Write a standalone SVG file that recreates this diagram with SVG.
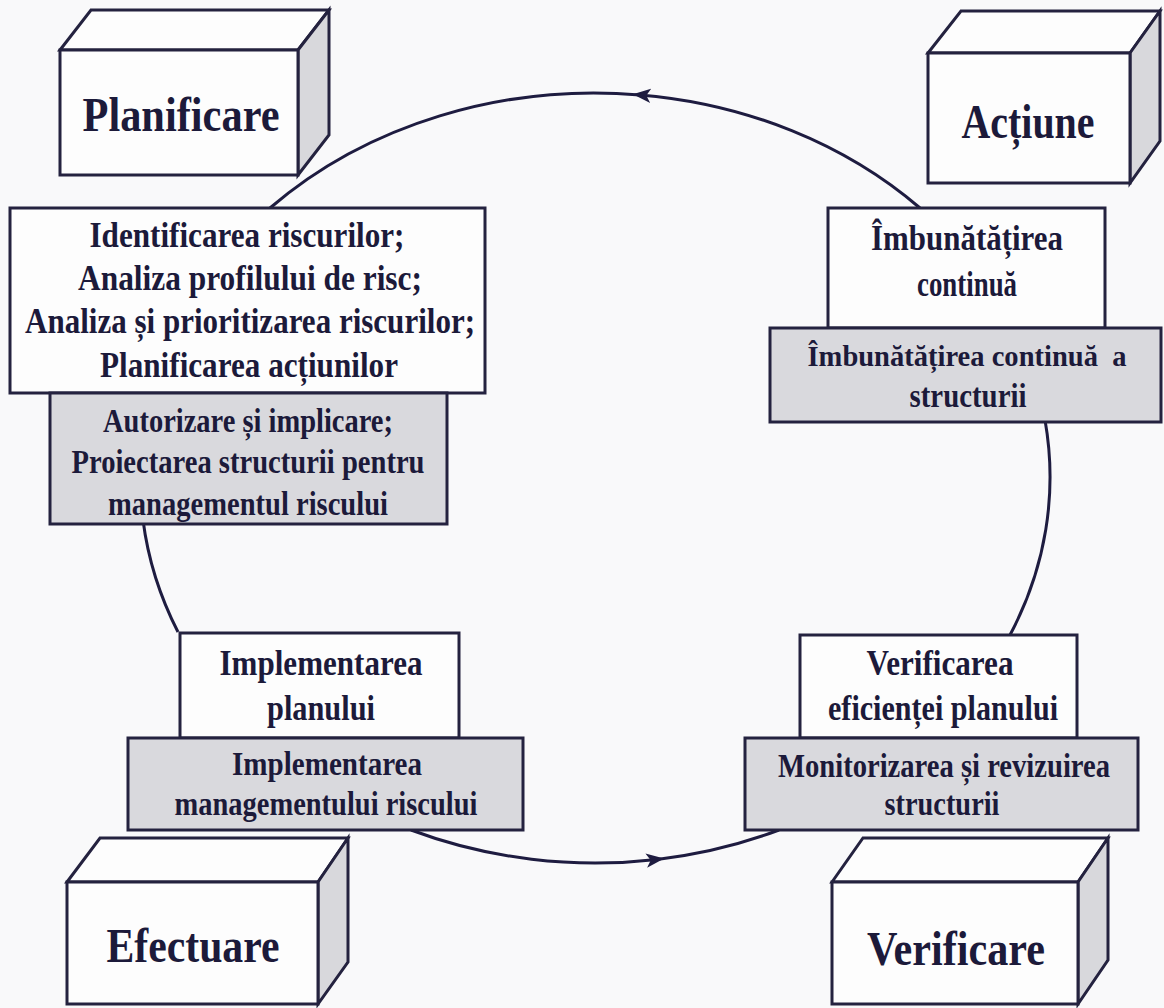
<svg xmlns="http://www.w3.org/2000/svg" width="1164" height="1008" viewBox="0 0 1164 1008">
<defs>
<marker id="arr" viewBox="0 0 20 16" refX="12" refY="8" markerWidth="18" markerHeight="15" markerUnits="userSpaceOnUse" orient="auto">
<path d="M0,0 L20,8 L0,16 L5,8 Z" fill="#1e1c40"/>
</marker>
<style>
.bg{fill:#f9f9fa}
.face{fill:#fdfdfd;stroke:#24223f;stroke-width:3;stroke-linejoin:miter}
.side{fill:#d8d8dc;stroke:#24223f;stroke-width:3;stroke-linejoin:miter}
.wbox{fill:#fdfdfd;stroke:#24223f;stroke-width:3}
.gbox{fill:#d9d9dd;stroke:#24223f;stroke-width:3}
.conn{fill:none;stroke:#1e1c40;stroke-width:3}
text{font-family:"Liberation Serif","Times New Roman",serif;font-weight:bold;fill:#1c1a3a;text-anchor:middle}
.h{font-size:48px}
.w{font-size:36px}
.g{font-size:33px}
</style>
</defs>
<rect class="bg" x="0" y="0" width="1164" height="1008"/>

<g id="connectors">
<path class="conn" d="M920,208 A455,385 0 0,0 640,94.9" marker-end="url(#arr)"/>
<path class="conn" d="M640,94.9 A455,385 0 0,0 270,208"/>
<path class="conn" d="M143,520 A455,385 0 0,0 178,632"/>
<path class="conn" d="M411,830 A455,385 0 0,0 657,859.4" marker-end="url(#arr)"/>
<path class="conn" d="M657,859.4 A455,385 0 0,0 779,830"/>
<path class="conn" d="M1010,635 A455,385 0 0,0 1045,420"/>
</g>

<g id="planificare">
<polygon class="face" points="60,50 91,10 329,10 298,50"/>
<polygon class="side" points="298,50 329,10 329,135 298,175"/>
<rect class="face" x="60" y="50" width="238" height="125"/>
<text class="h" x="181" y="131" textLength="197" lengthAdjust="spacingAndGlyphs">Planificare</text>
</g>

<g id="actiune">
<polygon class="face" points="928,53 961,11 1160,11 1130,53"/>
<polygon class="side" points="1130,53 1160,11 1160,141 1130,183"/>
<rect class="face" x="928" y="53" width="202" height="130"/>
<text class="h" x="1028" y="138" textLength="133" lengthAdjust="spacingAndGlyphs">Acțiune</text>
</g>

<g id="efectuare">
<polygon class="face" points="67,882 100,838 348,838 318,882"/>
<polygon class="side" points="318,882 348,838 348,962 318,1004"/>
<rect class="face" x="67" y="882" width="251" height="122"/>
<text class="h" x="193" y="962" textLength="173" lengthAdjust="spacingAndGlyphs">Efectuare</text>
</g>

<g id="verificare">
<polygon class="face" points="832,882 863,838 1108,838 1078,882"/>
<polygon class="side" points="1078,882 1108,838 1108,960 1078,1004"/>
<rect class="face" x="832" y="882" width="246" height="122"/>
<text class="h" x="956" y="965" textLength="178" lengthAdjust="spacingAndGlyphs">Verificare</text>
</g>

<g id="plan-activitati">
<rect class="wbox" x="10" y="208" width="475" height="185"/>
<text class="w" x="247" y="247" textLength="315" lengthAdjust="spacingAndGlyphs">Identificarea riscurilor;</text>
<text class="w" x="250" y="290" textLength="344" lengthAdjust="spacingAndGlyphs">Analiza profilului de risc;</text>
<text class="w" x="250" y="333" textLength="450" lengthAdjust="spacingAndGlyphs">Analiza și prioritizarea riscurilor;</text>
<text class="w" x="249" y="377" textLength="298" lengthAdjust="spacingAndGlyphs">Planificarea acțiunilor</text>
</g>

<g id="plan-structura">
<rect class="gbox" x="50" y="393" width="397" height="131"/>
<text class="g" x="248" y="432" textLength="290" lengthAdjust="spacingAndGlyphs">Autorizare și implicare;</text>
<text class="g" x="248" y="473" textLength="353" lengthAdjust="spacingAndGlyphs">Proiectarea structurii pentru</text>
<text class="g" x="248" y="515" textLength="280" lengthAdjust="spacingAndGlyphs">managementul riscului</text>
</g>

<g id="actiune-activitati">
<rect class="wbox" x="828" y="208" width="277" height="120"/>
<text class="w" x="967" y="250" textLength="192" lengthAdjust="spacingAndGlyphs">Îmbunătățirea</text>
<text class="w" x="967" y="296" textLength="100" lengthAdjust="spacingAndGlyphs">continuă</text>
</g>

<g id="actiune-structura">
<rect class="gbox" x="770" y="328" width="391" height="94"/>
<text class="g" x="967" y="366" style="font-size:30px" textLength="319" lengthAdjust="spacingAndGlyphs" xml:space="preserve">Îmbunătățirea continuă  a</text>
<text class="g" x="968" y="407" textLength="117" lengthAdjust="spacingAndGlyphs">structurii</text>
</g>

<g id="efectuare-activitati">
<rect class="wbox" x="180" y="633" width="279" height="105"/>
<text class="w" x="321" y="675" textLength="203" lengthAdjust="spacingAndGlyphs">Implementarea</text>
<text class="w" x="321" y="720" textLength="108" lengthAdjust="spacingAndGlyphs">planului</text>
</g>

<g id="efectuare-structura">
<rect class="gbox" x="128" y="738" width="395" height="92"/>
<text class="g" x="327" y="775" textLength="190" lengthAdjust="spacingAndGlyphs">Implementarea</text>
<text class="g" x="326" y="815" textLength="303" lengthAdjust="spacingAndGlyphs">managementului riscului</text>
</g>

<g id="verificare-activitati">
<rect class="wbox" x="800" y="635" width="277" height="103"/>
<text class="w" x="940" y="675" textLength="147" lengthAdjust="spacingAndGlyphs">Verificarea</text>
<text class="w" x="943" y="720" textLength="230" lengthAdjust="spacingAndGlyphs">eficienței planului</text>
</g>

<g id="verificare-structura">
<rect class="gbox" x="745" y="738" width="393" height="92"/>
<text class="g" x="944" y="777" textLength="332" lengthAdjust="spacingAndGlyphs">Monitorizarea și revizuirea</text>
<text class="g" x="942" y="815" textLength="115" lengthAdjust="spacingAndGlyphs">structurii</text>
</g>
</svg>
